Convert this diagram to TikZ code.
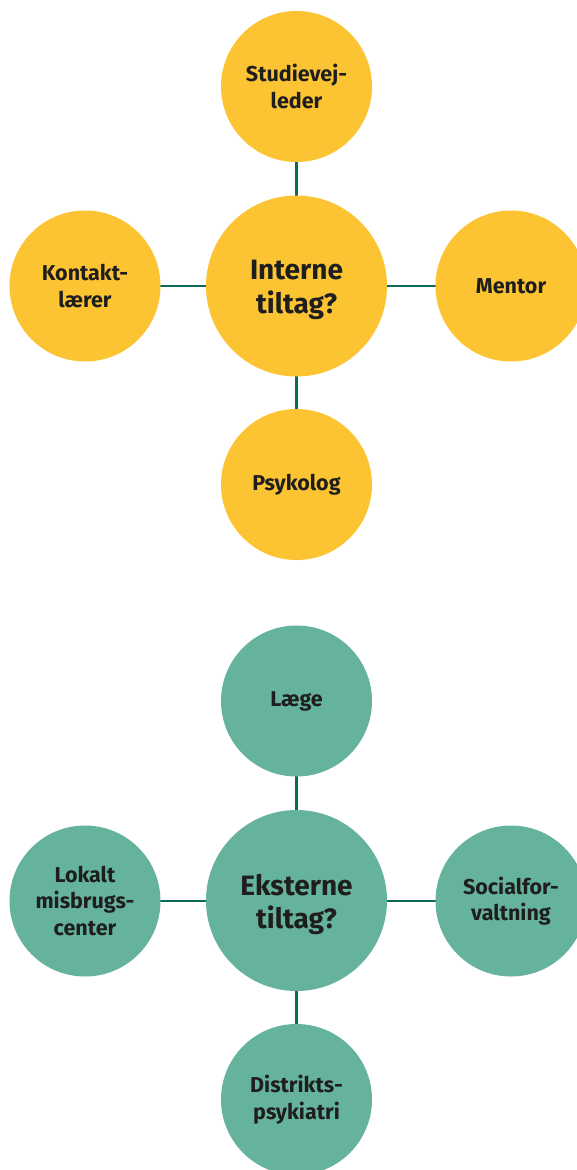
\documentclass[tikz,border=0pt]{standalone}
\usepackage{fontspec}
\setmainfont{Fira Sans}
\usetikzlibrary{backgrounds}
\definecolor{ylw}{HTML}{FCC433}
\definecolor{grn}{HTML}{66B39D}
\definecolor{lnk}{HTML}{0B6B58}
\definecolor{txt}{HTML}{1E1E1E}
\tikzset{
  bub/.style={circle, inner sep=0pt, minimum size=151pt, align=center, text=txt,
    font=\fontsize{21.5}{26.5}\selectfont\bfseries},
  hub/.style={circle, inner sep=0pt, minimum size=181pt},
  hubtxt/.style={align=center, text=txt, inner sep=0pt,
    font=\fontsize{28}{33.5}\selectfont\bfseries},
  yel/.style={fill=ylw},
  gre/.style={fill=grn},
  link/.style={draw=lnk, line width=2.5pt}
}
\begin{document}
\begin{tikzpicture}[x=1pt,y=-1pt]
\useasboundingbox (0,0) rectangle (577,1170);
\clip (0,0) rectangle (577,1170);
% internal
\node[hub,yel] (ic) at (296.5,286) {};
\node[hubtxt] (ict) at ([yshift=-4pt]ic.center) {Interne\\tiltag?};
\node[bub,yel] (it) at (296.5,86.5) {Studievej-\\leder};
\node[bub,yel] (il) at (85,286) {Kontakt-\\lærer};
\node[bub,yel] (ir) at (511,286) {Mentor};
\node[bub,yel] (ib) at (296.5,484.5) {Psykolog};
% external
\node[hub,gre] (ec) at (296.5,900.5) {};
\node[hubtxt] (ect) at ([yshift=-4pt]ec.center) {Eksterne\\tiltag?};
\node[bub,gre] (et) at (296.5,701) {Læge};
\node[bub,gre] (el) at (85,901) {Lokalt\\misbrugs-\\center};
\node[bub,gre] (er) at (511,901) {Socialfor-\\valtning};
\node[bub,gre] (eb) at (296.5,1099.5) {Distrikts-\\psykiatri};
\begin{scope}[on background layer]
\draw[link] (ic.center) -- (it.center);
\draw[link] (ic.center) -- (ib.center);
\draw[link] (il.center) -- (ir.center);
\draw[link] (ec.center) -- (et.center);
\draw[link] (ec.center) -- (eb.center);
\draw[link] (el.center) -- (er.center);
\end{scope}
\end{tikzpicture}
\end{document}
